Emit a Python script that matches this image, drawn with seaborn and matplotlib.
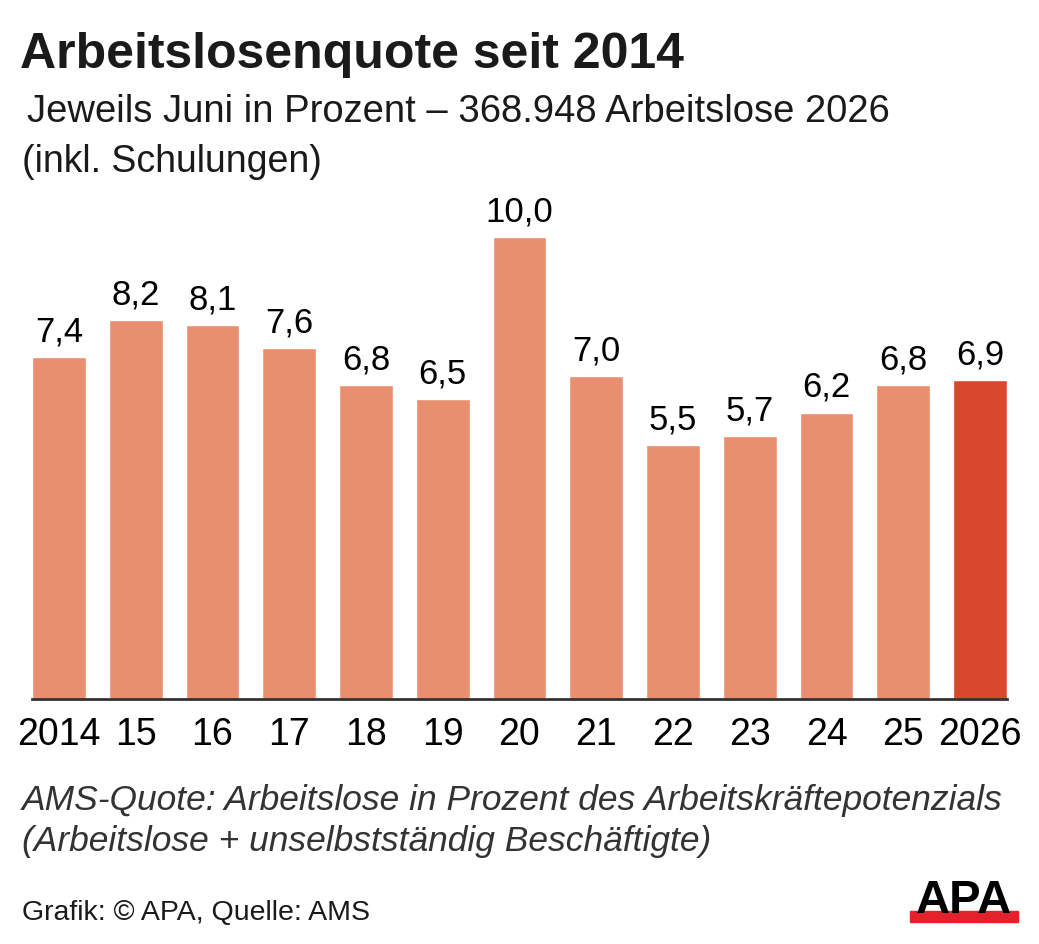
import pandas as pd
import matplotlib.pyplot as plt
import seaborn as sns
from matplotlib.patches import Rectangle

# Arbeitslosenquote jeweils Juni
years = ["2014", "15", "16", "17", "18", "19", "20", "21", "22", "23", "24", "25", "2026"]
rates = [7.4, 8.2, 8.1, 7.6, 6.8, 6.5, 10.0, 7.0, 5.5, 5.7, 6.2, 6.8, 6.9]
labels = ["7,4", "8,2", "8,1", "7,6", "6,8", "6,5", "10,0", "7,0", "5,5", "5,7", "6,2", "6,8", "6,9"]

light = "#E88F6F"
dark = "#D9472D"
colors = [light] * (len(years) - 1) + [dark]

df = pd.DataFrame({"Jahr": years, "Quote": rates})

sns.set_style("white")
plt.rcParams["font.family"] = ["Liberation Sans", "DejaVu Sans"]

fig = plt.figure(figsize=(10.39, 9.45), dpi=100)
W, H = 1039, 945
ax = fig.add_axes([32 / W, 1 - 700 / H, 975 / W, 508 / H])

sns.barplot(data=df, x="Jahr", y="Quote", hue="Jahr", palette=colors,
            legend=False, width=0.70, saturation=1, ax=ax)

# value labels above bars
for i, v in enumerate(rates):
    ax.annotate(labels[i], (i, v), xytext=(0, 7), textcoords="offset points",
                ha="center", va="bottom", fontsize=25, color="black")

ax.set_xlim(-0.35, len(years) - 0.65)
ax.set_ylim(0, 11)
ax.set_xlabel("")
ax.set_ylabel("")
ax.set_yticks([])
ax.tick_params(axis="x", length=0, pad=12, labelsize=27, colors="black")
for s in ["top", "right", "left"]:
    ax.spines[s].set_visible(False)
ax.spines["bottom"].set_color("#333333")
ax.spines["bottom"].set_linewidth(2)

fig.text(20 / W, 1 - 68 / H, "Arbeitslosenquote seit 2014", fontsize=36,
         fontweight="bold", color="#1a1a1a", va="baseline")
fig.text(27 / W, 1 - 122 / H, "Jeweils Juni in Prozent \u2013 368.948 Arbeitslose 2026",
         fontsize=27.5, color="#1a1a1a", va="baseline")
fig.text(22 / W, 1 - 172 / H, "(inkl. Schulungen)", fontsize=27, color="#1a1a1a", va="baseline")

fig.text(22 / W, 1 - 810 / H, "AMS-Quote: Arbeitslose in Prozent des Arbeitskr\u00e4ftepotenzials",
         fontsize=25.5, style="italic", color="#333333", va="baseline")
fig.text(22 / W, 1 - 851 / H, "(Arbeitslose + unselbstst\u00e4ndig Besch\u00e4ftigte)",
         fontsize=25.5, style="italic", color="#333333", va="baseline")

fig.text(22 / W, 1 - 920 / H, "Grafik: \u00a9 APA, Quelle: AMS", fontsize=20.5,
         color="#1a1a1a", va="baseline")

# APA logo
fig.patches.append(Rectangle((910 / W, 1 - 923 / H), 108 / W, 11 / H,
                             transform=fig.transFigure, color="#E3222B", zorder=1))
fig.text(964 / W, 1 - 913 / H, "APA", fontsize=34, fontweight="heavy",
         color="black", ha="center", va="baseline", zorder=2)

fig.savefig("out.png", dpi=100, facecolor="white")
